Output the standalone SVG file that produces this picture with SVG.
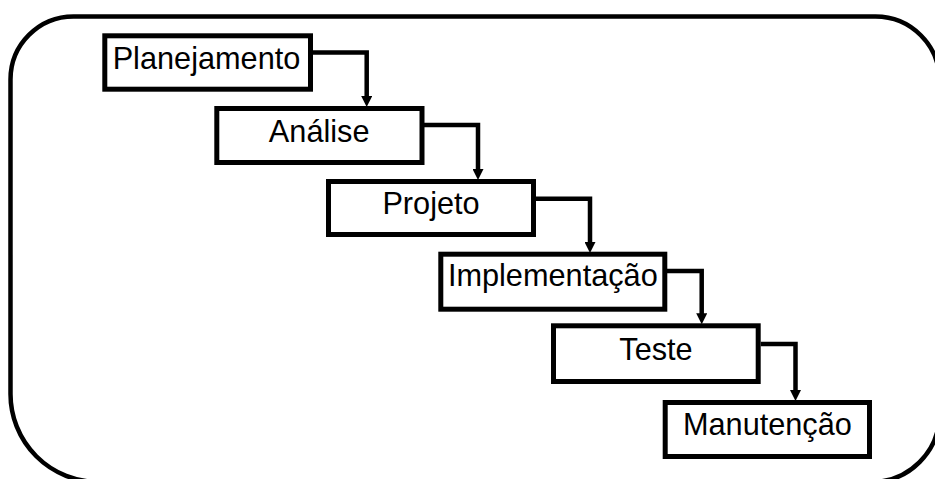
<svg xmlns="http://www.w3.org/2000/svg" width="935" height="479" viewBox="0 0 935 479">
  <style>
    .frame { fill: none; stroke: #000; stroke-width: 4.5; }
    .box rect { fill: #fff; stroke: #000; stroke-width: 5; }
    .box text { font-family: "Liberation Sans", Arial, sans-serif; font-size: 30.7px; fill: #000; text-anchor: middle; }
    .link { fill: none; stroke: #000; stroke-width: 4.5; stroke-linejoin: miter; marker-end: url(#arrow); }
  </style>
  <defs>
    <marker id="arrow" markerUnits="userSpaceOnUse" markerWidth="11" markerHeight="11" viewBox="0 0 11 11" refX="4" refY="5.5" orient="auto">
      <path d="M0,0 L11,5.5 L0,11 Z" fill="#000"/>
    </marker>
  </defs>

  <rect width="935" height="479" fill="#fff"/>

  <!-- outer rounded frame, partly running off the canvas -->
  <path class="frame" d="M10.5,79.5 A63,63 0 0 1 73.5,16.5 L875.5,16.5 A64,64 0 0 1 939.5,80.5 L939.5,414 A68,68 0 0 1 871.5,482 L98.5,482 A88,88 0 0 1 10.5,394 Z"/>

  <!-- step connectors -->
  <g id="connectors">
    <path class="link" d="M313,52.5 H366.7 V100"/>
    <path class="link" d="M424,125 H478 V173"/>
    <path class="link" d="M536,198.7 H590 V246"/>
    <path class="link" d="M667,271 H701.7 V317.3"/>
    <path class="link" d="M760.7,344 H795.5 V394"/>
  </g>

  <g id="planejamento" class="box">
    <rect x="104.8" y="35.8" width="205.7" height="53.4"/>
    <text x="206.5" y="68.5">Planejamento</text>
  </g>
  <g id="analise" class="box">
    <rect x="216.8" y="108.5" width="205.2" height="54"/>
    <text x="319.2" y="141.7">Análise</text>
  </g>
  <g id="projeto" class="box">
    <rect x="328.5" y="181.5" width="205" height="53"/>
    <text x="431" y="214">Projeto</text>
  </g>
  <g id="implementacao" class="box">
    <rect x="440.8" y="254.2" width="224" height="55"/>
    <text x="552.8" y="285.5">Implementação</text>
  </g>
  <g id="teste" class="box">
    <rect x="553.5" y="325.8" width="204.7" height="55.7"/>
    <text x="656" y="360">Teste</text>
  </g>
  <g id="manutencao" class="box">
    <rect x="665.2" y="402.5" width="204.3" height="54"/>
    <text x="767.4" y="435">Manutenção</text>
  </g>
</svg>
